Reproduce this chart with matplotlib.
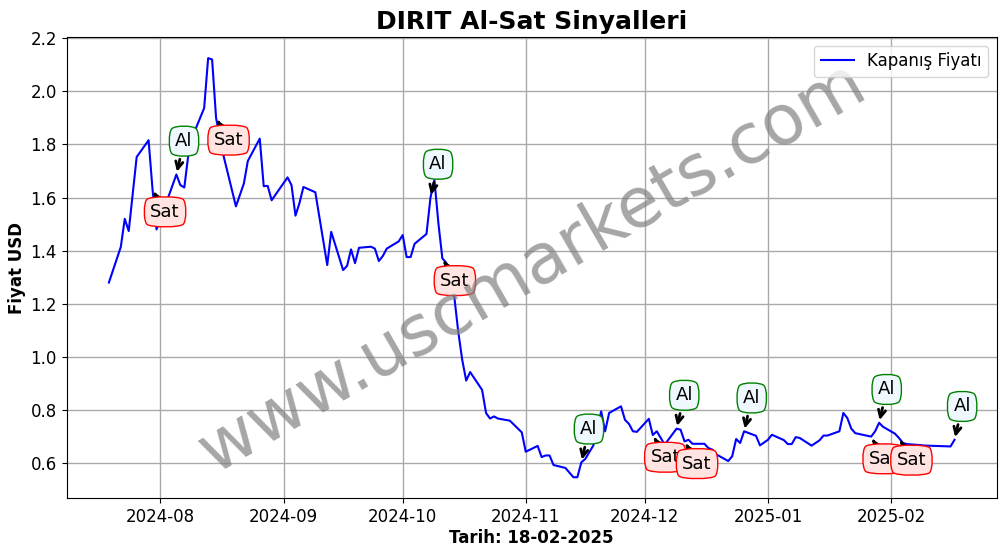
import pandas as pd
import matplotlib
matplotlib.use("Agg")
import matplotlib.dates as mdates
import matplotlib.pyplot as plt

dates = [
    "2024-07-19", "2024-07-22", "2024-07-23", "2024-07-24", "2024-07-26", "2024-07-29", "2024-07-30", "2024-07-31",
    "2024-08-03", "2024-08-05", "2024-08-06", "2024-08-07", "2024-08-08", "2024-08-10", "2024-08-12", "2024-08-13",
    "2024-08-14", "2024-08-15", "2024-08-16", "2024-08-17", "2024-08-20", "2024-08-22", "2024-08-23", "2024-08-26",
    "2024-08-27", "2024-08-28", "2024-08-29", "2024-09-02", "2024-09-03", "2024-09-04", "2024-09-05", "2024-09-06",
    "2024-09-09", "2024-09-12", "2024-09-13", "2024-09-16", "2024-09-17", "2024-09-18", "2024-09-19", "2024-09-20",
    "2024-09-23", "2024-09-24", "2024-09-25", "2024-09-26", "2024-09-27", "2024-09-30", "2024-10-01", "2024-10-02",
    "2024-10-03", "2024-10-04", "2024-10-07", "2024-10-08", "2024-10-09", "2024-10-10", "2024-10-11", "2024-10-12",
    "2024-10-14", "2024-10-15", "2024-10-16", "2024-10-17", "2024-10-18", "2024-10-21", "2024-10-22", "2024-10-23",
    "2024-10-24", "2024-10-25", "2024-10-28", "2024-10-31", "2024-11-01", "2024-11-04", "2024-11-05", "2024-11-06",
    "2024-11-07", "2024-11-08", "2024-11-11", "2024-11-13", "2024-11-14", "2024-11-15", "2024-11-16", "2024-11-18",
    "2024-11-20", "2024-11-21", "2024-11-22", "2024-11-25", "2024-11-26", "2024-11-27", "2024-11-28", "2024-11-29",
    "2024-12-02", "2024-12-03", "2024-12-04", "2024-12-06", "2024-12-09", "2024-12-10", "2024-12-11", "2024-12-12",
    "2024-12-13", "2024-12-16", "2024-12-17", "2024-12-18", "2024-12-19", "2024-12-22", "2024-12-23", "2024-12-24",
    "2024-12-25", "2024-12-26", "2024-12-29", "2024-12-30", "2025-01-01", "2025-01-02", "2025-01-05", "2025-01-06",
    "2025-01-07", "2025-01-08", "2025-01-09", "2025-01-12", "2025-01-14", "2025-01-15", "2025-01-16", "2025-01-19",
    "2025-01-20", "2025-01-21", "2025-01-22", "2025-01-23", "2025-01-27", "2025-01-28", "2025-01-29", "2025-01-30",
    "2025-02-02", "2025-02-03", "2025-02-04", "2025-02-05", "2025-02-10", "2025-02-16", "2025-02-17",
]
close = [
    1.28, 1.414, 1.52, 1.474, 1.753, 1.816, 1.63, 1.48,
    1.603, 1.687, 1.647, 1.638, 1.76, 1.864, 1.937, 2.125,
    2.12, 1.90, 1.82, 1.75, 1.567, 1.653, 1.738, 1.822,
    1.643, 1.644, 1.59, 1.676, 1.647, 1.532, 1.579, 1.64,
    1.62, 1.346, 1.471, 1.327, 1.343, 1.405, 1.353, 1.411,
    1.415, 1.408, 1.361, 1.38, 1.408, 1.435, 1.459, 1.376,
    1.376, 1.426, 1.463, 1.60, 1.666, 1.503, 1.371, 1.354,
    1.227, 1.095, 0.989, 0.911, 0.943, 0.876, 0.789, 0.768,
    0.776, 0.768, 0.76, 0.716, 0.643, 0.665, 0.623, 0.629,
    0.629, 0.593, 0.582, 0.547, 0.547, 0.603, 0.616, 0.666,
    0.795, 0.72, 0.789, 0.814, 0.763, 0.748, 0.72, 0.718,
    0.767, 0.706, 0.72, 0.67, 0.73, 0.726, 0.682, 0.688,
    0.673, 0.673, 0.657, 0.651, 0.633, 0.608, 0.626, 0.691,
    0.676, 0.72, 0.703, 0.667, 0.688, 0.707, 0.687, 0.672,
    0.672, 0.698, 0.695, 0.666, 0.686, 0.704, 0.704, 0.72,
    0.789, 0.77, 0.73, 0.713, 0.70, 0.72, 0.752, 0.737,
    0.711, 0.695, 0.676, 0.672, 0.666, 0.663, 0.688,
]
al_dates = ["2024-08-05", "2024-10-08", "2024-11-15", "2024-12-09", "2024-12-26", "2025-01-29", "2025-02-17"]
sat_dates = ["2024-07-30", "2024-08-15", "2024-10-11", "2024-12-03", "2024-12-11", "2025-01-27", "2025-02-03"]

df = pd.DataFrame({"close": close}, index=pd.to_datetime(dates))

fig = plt.figure(figsize=(10.06, 5.54), dpi=100)
ax = fig.add_axes([66.6 / 1006, 1 - 498.2 / 554, 930.2 / 1006, 461 / 554])
ax.plot(df.index, df["close"], color="blue", linewidth=1.5, label="Kapanış Fiyatı")

for d in al_dates:
    t = pd.Timestamp(d)
    ax.annotate("Al", xy=(t, df.loc[t, "close"]), xytext=(5.5, 24), textcoords="offset points",
                ha="center", va="center", fontsize=13,
                arrowprops=dict(arrowstyle="->", color="black", lw=2),
                bbox=dict(boxstyle="round4,pad=0.38", edgecolor="green", facecolor="aliceblue"))
for d in sat_dates:
    t = pd.Timestamp(d)
    ax.annotate("Sat", xy=(t, df.loc[t, "close"]), xytext=(9, -16), textcoords="offset points",
                ha="center", va="center", fontsize=13,
                arrowprops=dict(arrowstyle="->", color="black", lw=2),
                bbox=dict(boxstyle="round4,pad=0.38", edgecolor="red", facecolor="mistyrose"))

ax.text(0.5, 0.5, "www.uscmarkets.com", transform=ax.transAxes, fontsize=50, color="gray", alpha=0.7,
        rotation=30, ha="center", va="center")

ax.set_title("DIRIT Al-Sat Sinyalleri", fontsize=18, fontweight="bold", pad=6)
ax.set_xlabel("Tarih: 18-02-2025", fontsize=12, fontweight="bold", labelpad=2)
ax.set_ylabel("Fiyat USD", fontsize=12, fontweight="bold", labelpad=3)
ax.tick_params(labelsize=12)
ax.grid(True, color="#aaaaaa", linewidth=1)
ax.legend(loc="upper right", fontsize=12)
ax.xaxis.set_major_locator(mdates.MonthLocator())
ax.xaxis.set_major_formatter(mdates.DateFormatter("%Y-%m"))

fig.savefig("out.png", dpi=100)
